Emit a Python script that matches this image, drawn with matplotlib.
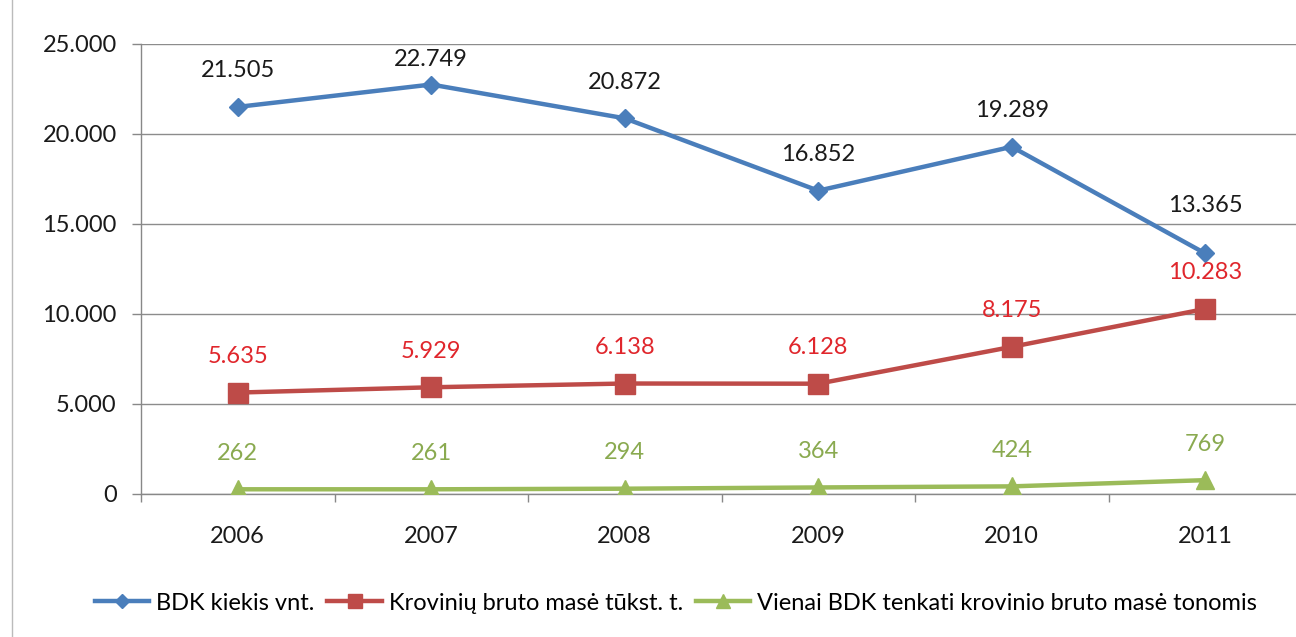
import matplotlib
matplotlib.use("Agg")
import matplotlib.pyplot as plt
from matplotlib.lines import Line2D

years = ["2006", "2007", "2008", "2009", "2010", "2011"]
bdk_count = [21505, 22749, 20872, 16852, 19289, 13365]
cargo_mass = [5635, 5929, 6138, 6128, 8175, 10283]
mass_per_bdk = [262, 261, 294, 364, 424, 769]

series_names = [
    "BDK kiekis vnt.",
    "Krovinių bruto masė tūkst. t.",
    "Vienai BDK tenkati krovinio bruto masė tonomis",
]

plt.rcParams["font.family"] = ["Lato", "DejaVu Sans"]

# label offsets (points above the marker); a few labels were nudged in the original
DEFAULT_DY = 26
label_dy = {(0, 1): 18, (0, 5): 34.5}


def fmt(v):
    return f"{v:,}".replace(",", ".")


fig = plt.figure(figsize=(12.96, 6.37), dpi=100)
ax = fig.add_axes([141 / 1296, 1 - 494 / 637, (1302 - 141) / 1296, (494 - 44) / 637])

x = list(range(len(years)))
styles = [
    (bdk_count, "#4A7EBB", "D", 9.3, "#1a1a1a"),
    (cargo_mass, "#BE4B48", "s", 14, "#E0262C"),
    (mass_per_bdk, "#9BBB59", "^", 13, "#8AAA50"),
]
for si, ((vals, color, marker, ms, tcolor), name) in enumerate(zip(styles, series_names)):
    ax.plot(x, vals, color=color, lw=3.2, marker=marker, ms=ms, label=name, zorder=3,
            solid_joinstyle="round")
    for xi, v in zip(x, vals):
        dy = label_dy.get((si, xi), DEFAULT_DY)
        ax.annotate(fmt(v), (xi, v), xytext=(0, dy), textcoords="offset points",
                    ha="center", va="center", fontsize=17, color=tcolor)

ax.set_xlim(-0.5, len(years) - 0.5)
ax.set_ylim(0, 25000)
ax.set_yticks(range(0, 25001, 5000))
ax.set_yticklabels([fmt(v) for v in range(0, 25001, 5000)], fontsize=17, color="#1a1a1a")
ax.set_xticks(x)
ax.set_xticklabels(years, fontsize=17, color="#1a1a1a")
ax.set_xticks([i + 0.5 for i in range(-1, len(years))], minor=True)
ax.tick_params(axis="x", which="major", length=0, pad=23)
ax.tick_params(axis="x", which="minor", length=6, color="#888888", width=1)
ax.tick_params(axis="y", length=6.5, color="#888888", width=1, pad=11)
ax.grid(axis="y", color="#8c8c8c", lw=1)
ax.set_axisbelow(True)
for side in ["top", "right"]:
    ax.spines[side].set_visible(False)
for side in ["left", "bottom"]:
    ax.spines[side].set_color("#888888")
    ax.spines[side].set_linewidth(1)

fig.legend(loc="center", bbox_to_anchor=(676 / 1296, 1 - 603 / 637), ncol=3, frameon=False,
           fontsize=17, handlelength=2.3, handletextpad=0.3, columnspacing=0.55,
           markerscale=0.75)

fig.add_artist(Line2D([12 / 1296, 12 / 1296], [0, 1], transform=fig.transFigure,
                      color="#bbbbbb", lw=1))

fig.savefig("out.png", dpi=100)
